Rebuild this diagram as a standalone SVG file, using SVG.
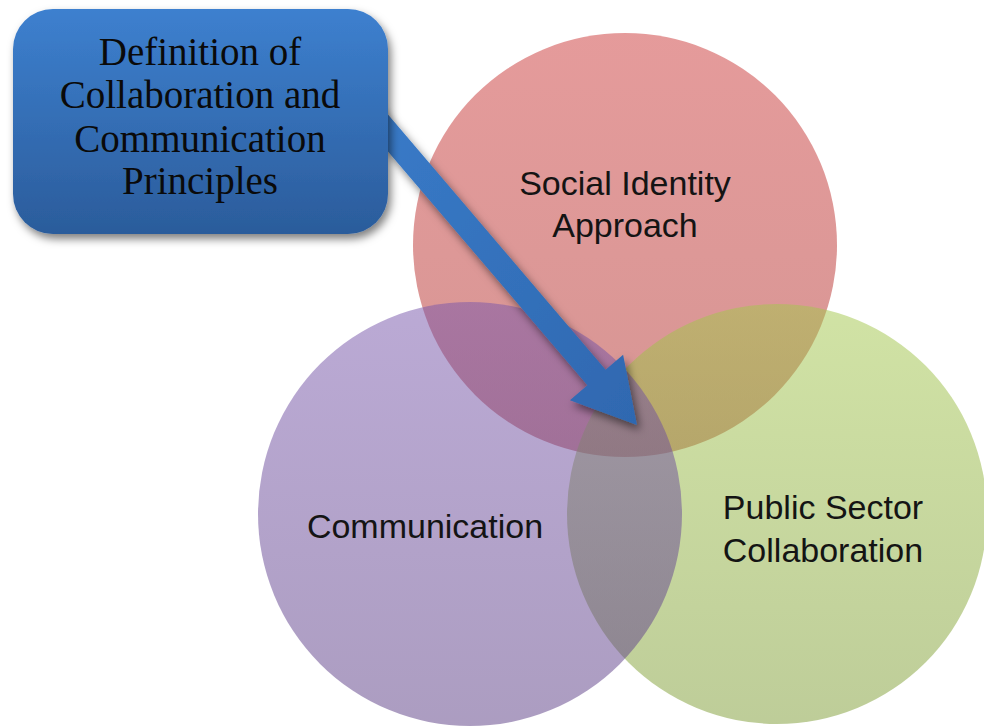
<svg xmlns="http://www.w3.org/2000/svg" width="984" height="728" viewBox="0 0 984 728">
<style>
.circ{fill-opacity:0.5}
.lbl{font-family:"Liberation Sans","Open Sans",sans-serif;font-size:34px;fill:#141414;text-anchor:middle}
.box-t{font-family:"Liberation Serif","Times New Roman",serif;font-size:39px;fill:#0a0a0a;text-anchor:middle}
</style>
<defs>
<linearGradient id="gRed" x1="0" y1="0" x2="0" y2="1"><stop offset="0" stop-color="#cb3737"/><stop offset="1" stop-color="#ad2d29"/></linearGradient>
<linearGradient id="gPur" x1="0" y1="0" x2="0" y2="1"><stop offset="0" stop-color="#7755ab"/><stop offset="1" stop-color="#593b83"/></linearGradient>
<linearGradient id="gGrn" x1="0" y1="0" x2="0" y2="1"><stop offset="0" stop-color="#a3c74b"/><stop offset="1" stop-color="#7d9b33"/></linearGradient>
<linearGradient id="gBox" x1="0" y1="0" x2="0" y2="1"><stop offset="0" stop-color="#3d80cf"/><stop offset="1" stop-color="#2b5c9b"/></linearGradient>
<linearGradient id="gArr" x1="0" y1="0" x2="1" y2="1"><stop offset="0" stop-color="#3a7dcb"/><stop offset="1" stop-color="#2f68b0"/></linearGradient>
<filter id="sh" x="-20%" y="-20%" width="140%" height="140%"><feDropShadow dx="3" dy="5" stdDeviation="4" flood-color="#000" flood-opacity="0.5"/></filter>
</defs>
<g id="social-identity">
<circle class="circ" cx="625" cy="245" r="212" fill="url(#gRed)"/>
</g>
<g id="public-sector">
<circle class="circ" cx="777" cy="514" r="210" fill="url(#gGrn)"/>
</g>
<g id="communication">
<circle class="circ" cx="470" cy="514" r="212" fill="url(#gPur)"/>
</g>
<g id="labels">
<text class="lbl" x="625" y="195">Social Identity</text>
<text class="lbl" x="625" y="237">Approach</text>
<text class="lbl" x="425" y="538">Communication</text>
<text class="lbl" x="823" y="519">Public Sector</text>
<text class="lbl" x="823" y="562">Collaboration</text>
</g>
<g id="connectors">
<polygon points="349.2,69.1 605.6,369.7 623.1,354.8 637,425 569.9,400.2 587.4,385.3 331,84.7" fill="url(#gArr)" filter="url(#sh)"/>
</g>
<g id="definition">
<rect x="13" y="9" width="375" height="225" rx="40" ry="40" fill="url(#gBox)" filter="url(#sh)"/>
<text class="box-t" x="200" y="65">Definition of</text>
<text class="box-t" x="200" y="108">Collaboration and</text>
<text class="box-t" x="200" y="152">Communication</text>
<text class="box-t" x="200" y="194">Principles</text>
</g>
</svg>
